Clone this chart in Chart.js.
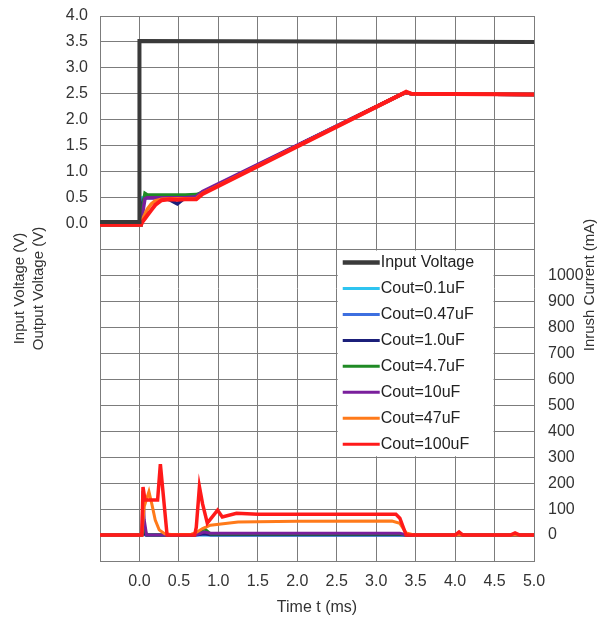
<!DOCTYPE html>
<html>
<head>
<meta charset="utf-8">
<script src="https://cdn.jsdelivr.net/npm/chart.js@4.4.1/dist/chart.umd.min.js"></script>
<style>
  html, body { margin: 0; padding: 0; background: #fff; }
  canvas { display: block; }
</style>
</head>
<body>
<canvas id="inrushChart" width="603" height="621"></canvas>
<script>
// tick labels that are printed
const timeTicks = [0.0, 0.5, 1.0, 1.5, 2.0, 2.5, 3.0, 3.5, 4.0, 4.5, 5.0];
const voltTicks = [0.0, 0.5, 1.0, 1.5, 2.0, 2.5, 3.0, 3.5, 4.0];
const currentTicks = [0, 100, 200, 300, 400, 500, 600, 700, 800, 900, 1000];

const seriesLabels = ["Input Voltage", "Cout=0.1uF", "Cout=0.47uF", "Cout=1.0uF",
  "Cout=4.7uF", "Cout=10uF", "Cout=47uF", "Cout=100uF"];

// input voltage (V)
const tVin = [-0.5, 0.0, 0.0, 5.0];
const vIn = [0.03, 0.03, 3.52, 3.5];

// output voltage (V), shared time points (ms)
const tVout = [-0.5, 0.02, 0.04, 0.07, 0.1, 0.15, 0.2, 0.28, 0.38, 0.48, 0.58, 0.72, 0.8, 3.33, 3.38, 3.45, 5.0];
const vOut0p1 = [-0.02, -0.02, 0.5, 0.52, 0.52, 0.52, 0.52, 0.52, 0.52, 0.52, 0.52, 0.53, 0.6, 2.5, 2.52, 2.5, 2.49];
const vOut0p47 = [-0.02, -0.02, 0.45, 0.52, 0.52, 0.52, 0.52, 0.52, 0.5, 0.47, 0.52, 0.53, 0.6, 2.5, 2.52, 2.5, 2.49];
const vOut1p0 = [-0.02, -0.02, 0.4, 0.5, 0.5, 0.5, 0.5, 0.5, 0.46, 0.38, 0.5, 0.53, 0.6, 2.5, 2.52, 2.5, 2.49];
const vOut4p7 = [-0.02, -0.02, 0.3, 0.58, 0.55, 0.55, 0.55, 0.55, 0.55, 0.55, 0.55, 0.56, 0.6, 2.5, 2.52, 2.5, 2.49];
const vOut10 = [-0.02, -0.02, 0.2, 0.48, 0.5, 0.5, 0.5, 0.5, 0.5, 0.5, 0.5, 0.52, 0.62, 2.5, 2.52, 2.5, 2.49];
const vOut47 = [-0.02, -0.02, 0.08, 0.18, 0.28, 0.38, 0.44, 0.47, 0.48, 0.48, 0.48, 0.48, 0.58, 2.5, 2.53, 2.5, 2.49];
const vOut100 = [-0.02, -0.02, 0.04, 0.1, 0.16, 0.26, 0.36, 0.45, 0.47, 0.46, 0.47, 0.47, 0.57, 2.5, 2.54, 2.5, 2.49];

// inrush current (mA)
const tIsmall = [-0.5, 0.03, 0.045, 0.06, 0.09, 0.7, 0.76, 0.82, 0.9, 3.3, 3.38, 5.0];
const iOut0p1 = [0, 0, 3, 1, 0, 0, 0, 1, 0, 0, 0, 0];
const iOut0p47 = [0, 0, 10, 2, 0, 0, 1, 2, 0, 0, 0, 0];
const iOut1p0 = [0, 0, 20, 5, 0, 0, 2, 5, 1, 1, 0, 0];
const iOut4p7 = [0, 0, 80, 30, 0, 0, 10, 25, 4, 4, 0, 0];
const iOut10 = [0, 0, 170, 60, 0, 0, 5, 12, 7, 7, 0, 0];

const tI47 = [-0.5, 0.03, 0.06, 0.12, 0.16, 0.2, 0.25, 0.32, 0.4, 0.66, 0.72, 0.8, 0.9, 1.25, 2.0, 3.2, 3.3, 3.38, 3.48, 5.0];
const iOut47 = [0, 0, 110, 167, 115, 58, 20, 5, 2, 3, 10, 25, 38, 50, 53, 54, 45, 8, 0, 0];

const tI100 = [-0.5, 0.03, 0.045, 0.07, 0.23, 0.265, 0.35, 0.7, 0.72, 0.76, 0.8, 0.86, 0.99, 1.05, 1.23, 1.5, 3.25, 3.3, 3.38, 4.0, 4.05, 4.1, 4.7, 4.76, 4.82, 5.0];
const iOut100 = [0, 0, 185, 135, 135, 273, 0, 0, 30, 186, 120, 46, 96, 70, 84, 80, 80, 65, 0, 0, 12, 0, 0, 8, 0, 0];

const colors = ["#3a3a3a", "#2ec4f0", "#3d6fe0", "#1b1f7a", "#1f8a24", "#7a1f9c", "#ff7a1a", "#ff1a1a"];

const FONT = '"Liberation Sans", Arial, sans-serif';
const GRID = "#7c7c7c";
const TEXT = "#333";

function pts(ts, vs) {
  return ts.map((t, i) => ({ x: t, y: vs[i] }));
}

function line(label, ts, vs, color, axis, width, order) {
  return {
    label: label,
    data: pts(ts, vs),
    yAxisID: axis,
    borderColor: color,
    backgroundColor: color,
    borderWidth: width,
    pointRadius: 0,
    tension: 0,
    fill: false,
    order: order,
  };
}

const datasets = [
  line(seriesLabels[0], tVin, vIn, colors[0], "y", 4, 0),
  line(seriesLabels[7], tVout, vOut100, colors[7], "y", 4, 1),
  line(seriesLabels[6], tVout, vOut47, colors[6], "y", 3.5, 2),
  line(seriesLabels[5], tVout, vOut10, colors[5], "y", 3.5, 3),
  line(seriesLabels[4], tVout, vOut4p7, colors[4], "y", 3.5, 4),
  line(seriesLabels[3], tVout, vOut1p0, colors[3], "y", 3.5, 5),
  line(seriesLabels[2], tVout, vOut0p47, colors[2], "y", 3.5, 6),
  line(seriesLabels[1], tVout, vOut0p1, colors[1], "y", 3.5, 7),
  line(seriesLabels[7], tI100, iOut100, colors[7], "y1", 3.5, 1),
  line(seriesLabels[6], tI47, iOut47, colors[6], "y1", 3, 2),
  line(seriesLabels[5], tIsmall, iOut10, colors[5], "y1", 3, 3),
  line(seriesLabels[4], tIsmall, iOut4p7, colors[4], "y1", 3, 4),
  line(seriesLabels[3], tIsmall, iOut1p0, colors[3], "y1", 3, 5),
  line(seriesLabels[2], tIsmall, iOut0p47, colors[2], "y1", 3, 6),
  line(seriesLabels[1], tIsmall, iOut0p1, colors[1], "y1", 3, 7),
];

function shown(list, v) {
  return list.some(t => Math.abs(t - v) < 1e-6);
}

// legend sits in the empty grid cells (2.5..4.5 ms, -0.5..-4.5 V)
const insideLegend = {
  id: "insideLegend",
  beforeDatasetsDraw(chart) {
    const { ctx, scales: { x, y } } = chart;
    const left = x.getPixelForValue(2.5);
    const right = x.getPixelForValue(4.5);
    const top = y.getPixelForValue(-0.5);
    const bottom = y.getPixelForValue(-4.5);
    const rowH = (bottom - top) / seriesLabels.length;
    ctx.save();
    ctx.fillStyle = "#fff";
    ctx.fillRect(left + 1, top + 1, right - left - 2, bottom - top - 2);
    ctx.font = "16px " + FONT;
    ctx.textBaseline = "middle";
    ctx.textAlign = "left";
    seriesLabels.forEach((label, i) => {
      const cy = top + rowH * (i + 0.5);
      ctx.strokeStyle = colors[i];
      ctx.lineWidth = i === 0 ? 4.5 : 3;
      ctx.beginPath();
      ctx.moveTo(left + 6, cy);
      ctx.lineTo(left + 43, cy);
      ctx.stroke();
      ctx.fillStyle = "#222";
      ctx.fillText(label, left + 44, cy);
    });
    ctx.restore();
  },
  afterDraw(chart) {
    // right axis title reads bottom-to-top
    const { ctx } = chart;
    ctx.save();
    ctx.translate(590, 285);
    ctx.rotate(-Math.PI / 2);
    ctx.font = "15px " + FONT;
    ctx.fillStyle = TEXT;
    ctx.textAlign = "center";
    ctx.textBaseline = "middle";
    ctx.fillText("Inrush Current (mA)", 0, 0);
    ctx.restore();
  },
};

function fixVertical(width) {
  return scale => {
    scale.width = width;
    scale.paddingTop = 0;
    scale.paddingBottom = 0;
  };
}

new Chart(document.getElementById("inrushChart"), {
  type: "line",
  data: { datasets: datasets },
  plugins: [insideLegend],
  options: {
    responsive: false,
    animation: false,
    events: [],
    layout: { padding: { top: 16, right: 0, bottom: 0, left: 0 } },
    plugins: { legend: { display: false }, tooltip: { enabled: false } },
    scales: {
      x: {
        type: "linear",
        min: -0.5,
        max: 5.0,
        afterFit(scale) {
          scale.height = 60;
          scale.paddingLeft = 0;
          scale.paddingRight = 0;
        },
        ticks: {
          stepSize: 0.5,
          autoSkip: false,
          maxRotation: 0,
          padding: 11,
          color: TEXT,
          font: { family: FONT, size: 16 },
          callback: v => (shown(timeTicks, v) ? Math.abs(v).toFixed(1) : ""),
        },
        grid: { color: GRID, lineWidth: 1, drawTicks: false },
        border: { color: GRID },
        title: {
          display: true,
          text: "Time t (ms)",
          color: TEXT,
          font: { family: FONT, size: 16 },
          padding: { top: 0, bottom: 4 },
        },
      },
      y: {
        type: "linear",
        position: "left",
        min: -6.5,
        max: 4.0,
        afterFit: fixVertical(100),
        ticks: {
          stepSize: 0.5,
          autoSkip: false,
          padding: 12,
          color: TEXT,
          font: { family: FONT, size: 16 },
          callback: v => (shown(voltTicks, v) ? Math.abs(v).toFixed(1) : ""),
        },
        grid: { color: GRID, lineWidth: 1, drawTicks: false },
        border: { color: GRID },
        title: {
          display: true,
          text: ["Input Voltage (V)", "Output Voltage (V)"],
          color: TEXT,
          font: { family: FONT, size: 15, lineHeight: 1.27 },
          padding: { top: 10, bottom: 0 },
        },
      },
      y1: {
        type: "linear",
        position: "right",
        min: -100,
        max: 2000,
        afterFit: fixVertical(69),
        ticks: {
          stepSize: 100,
          autoSkip: false,
          padding: 14,
          color: TEXT,
          font: { family: FONT, size: 16 },
          callback: v => (shown(currentTicks, v) ? String(Math.round(v)) : ""),
        },
        grid: { display: false, drawTicks: false },
        border: { display: false },
      },
    },
  },
});
</script>
</body>
</html>
